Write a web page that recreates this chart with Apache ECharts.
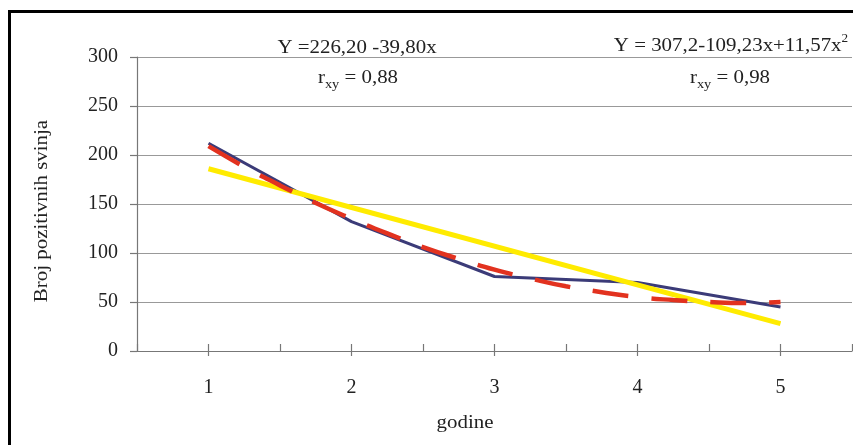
<!DOCTYPE html>
<html>
<head>
<meta charset="utf-8">
<script src="https://cdn.jsdelivr.net/npm/echarts@6/dist/echarts.min.js"></script>
<style>html,body{margin:0;padding:0;background:#fff}#c{width:853px;height:445px}</style>
</head>
<body>
<div id="c"></div>
<script>
// data
var yearTicks = [1, 2, 3, 4, 5];
var observedX = [1, 2, 3, 4, 5];
var observedY = [212, 132, 76, 70, 45];
var linearX = [1, 5];
var linearY = [186, 28];
var quadX = [1, 1.25, 1.5, 1.75, 2, 2.25, 2.5, 2.75, 3, 3.25, 3.5, 3.75, 4, 4.25, 4.5, 4.75, 5];
var quadY = [209, 188, 169, 151, 135, 120, 106, 94, 83, 74, 66, 60, 55, 52, 50, 49, 50];
var halfTicks = [0.5, 1, 1.5, 2, 2.5, 3, 3.5, 4, 4.5, 5, 5.5];

function pairs(xs, ys) { return xs.map(function (x, i) { return [x, ys[i]]; }); }

var serif = '"Liberation Serif", "DejaVu Serif", serif';
var txt = '#222';
var sx = 1.1;
var chart = echarts.init(document.getElementById('c'));
chart.setOption({
  animation: false,
  grid: { left: 137, right: 1, top: 57, bottom: 94 },
  xAxis: [{
    type: 'value', min: 0.5, max: 5.5, interval: 0.5,
    axisLine: { show: true, lineStyle: { color: '#777', width: 1.2 } },
    axisTick: { show: true, inside: true, length: 7, customValues: halfTicks, lineStyle: { color: '#777', width: 1.2 } },
    axisLabel: { show: false },
    splitLine: { show: false }
  }, {
    type: 'value', min: 0.5, max: 5.5, position: 'bottom',
    axisLine: { show: false },
    axisTick: { show: true, length: 5, customValues: yearTicks, lineStyle: { color: '#777', width: 1.2 } },
    axisLabel: { show: true, customValues: yearTicks, margin: 27, fontFamily: serif, fontSize: 20, color: txt },
    splitLine: { show: false }
  }],
  yAxis: {
    type: 'value', min: 0, max: 300, interval: 50,
    axisLine: { show: true, lineStyle: { color: '#777', width: 1.2 } },
    axisTick: { show: true, length: 7, lineStyle: { color: '#777', width: 1.2 } },
    axisLabel: { margin: 19, fontFamily: serif, fontSize: 20, color: txt },
    splitLine: { show: true, lineStyle: { color: '#999', width: 1.2 } }
  },
  series: [{
    type: 'line', data: pairs(observedX, observedY), symbol: 'none',
    lineStyle: { color: '#3b3b78', width: 3 }, z: 2
  }, {
    type: 'line', data: pairs(linearX, linearY), symbol: 'none',
    lineStyle: { color: '#ffeb00', width: 5 }, z: 3
  }, {
    type: 'line', data: pairs(quadX, quadY), symbol: 'none', smooth: true,
    lineStyle: { color: '#e2321f', width: 4.5, type: [36, 23], cap: 'butt' }, z: 4
  }],
  graphic: [
    { type: 'rect', shape: { x: 9.5, y: 11.5, width: 900, height: 500 }, style: { fill: 'none', stroke: '#000', lineWidth: 3 }, silent: true },
    { type: 'text', x: 357, y: 48, scaleX: sx, style: { text: 'Y =226,20 -39,80x', font: '19px ' + serif, fill: txt, align: 'center', verticalAlign: 'middle' } },
    { type: 'text', x: 358, y: 78, scaleX: sx, style: {
        text: '{a|r}{s|xy}{a| = 0,88}', align: 'center', verticalAlign: 'middle', fill: txt,
        rich: { a: { fontFamily: serif, fontSize: 19, fill: txt, verticalAlign: 'middle', lineHeight: 26 },
                s: { fontFamily: serif, fontSize: 13, fill: txt, verticalAlign: 'bottom', lineHeight: 26 } } } },
    { type: 'text', x: 731, y: 46, scaleX: sx, style: {
        text: '{a|Y = 307,2-109,23x+11,57x}{p|2}', align: 'center', verticalAlign: 'middle', fill: txt,
        rich: { a: { fontFamily: serif, fontSize: 19, fill: txt, verticalAlign: 'middle', lineHeight: 26 },
                p: { fontFamily: serif, fontSize: 12, fill: txt, verticalAlign: 'top', lineHeight: 26 } } } },
    { type: 'text', x: 730, y: 78, scaleX: sx, style: {
        text: '{a|r}{s|xy}{a| = 0,98}', align: 'center', verticalAlign: 'middle', fill: txt,
        rich: { a: { fontFamily: serif, fontSize: 19, fill: txt, verticalAlign: 'middle', lineHeight: 26 },
                s: { fontFamily: serif, fontSize: 13, fill: txt, verticalAlign: 'bottom', lineHeight: 26 } } } },
    { type: 'text', x: 465, y: 423, scaleX: sx, style: { text: 'godine', font: '19px ' + serif, fill: txt, align: 'center', verticalAlign: 'middle' } },
    { type: 'text', x: 42, y: 211, rotation: Math.PI / 2, scaleX: sx, style: { text: 'Broj pozitivnih svinja', font: '19px ' + serif, fill: txt, align: 'center', verticalAlign: 'middle' } }
  ]
});
</script>
</body>
</html>
